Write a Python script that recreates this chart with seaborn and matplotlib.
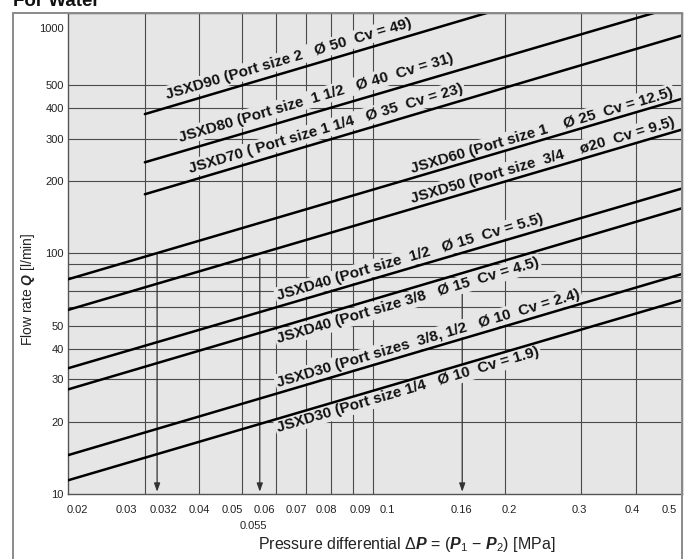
import numpy as np
import pandas as pd
import matplotlib
matplotlib.use("Agg")
import matplotlib.pyplot as plt
import matplotlib.transforms as mtransforms
from matplotlib.lines import Line2D
from matplotlib.ticker import NullLocator
import seaborn as sns

# --- data (each line is straight on log-log axes) ---
models = ["JSXD90", "JSXD80", "JSXD70", "JSXD60", "JSXD50",
          "JSXD40 1/2", "JSXD40 3/8", "JSXD30 3/8,1/2", "JSXD30 1/4"]
labels = [
    "JSXD90 (Port size 2   Ø 50  Cv = 49)",
    "JSXD80 (Port size  1 1/2   Ø 40  Cv = 31)",
    "JSXD70 ( Port size 1 1/4   Ø 35  Cv = 23)",
    "JSXD60 (Port size 1    Ø 25  Cv = 12.5)",
    "JSXD50 (Port size  3/4    ø20  Cv = 9.5)",
    "JSXD40 (Port size  1/2   Ø 15  Cv = 5.5)",
    "JSXD40 (Port size 3/8   Ø 15  Cv = 4.5)",
    "JSXD30 (Port sizes  3/8, 1/2   Ø 10  Cv = 2.4)",
    "JSXD30 (Port size 1/4   Ø 10  Cv = 1.9)",
]
dp_start = [0.03, 0.03, 0.03, 0.02, 0.02, 0.02, 0.02, 0.02, 0.02]
dp_end = [0.183, 0.442, 0.51, 0.51, 0.51, 0.51, 0.51, 0.51, 0.51]
q_start = [379, 239, 176, 78.0, 58.2, 33.3, 27.2, 14.5, 11.4]
q_end = [1000, 1000, 805, 439, 327, 186, 154, 82.1, 64.0]

# example readings marked by arrows
arrow_dp = [0.032, 0.055, 0.16]
arrow_q = [100, 95, 70]

x_ticks = [0.02, 0.03, 0.032, 0.04, 0.05, 0.055, 0.06, 0.07, 0.08, 0.09, 0.1, 0.16, 0.2, 0.3, 0.4, 0.5]
x_tick_text = ["0.02", "0.03", "0.032", "0.04", "0.05", "0.055", "0.06", "0.07", "0.08", "0.09",
               "0.1", "0.16", "0.2", "0.3", "0.4", "0.5"]
y_ticks = [10, 20, 30, 40, 50, 100, 200, 300, 400, 500, 1000]
y_tick_text = ["10", "20", "30", "40", "50", "100", "200", "300", "400", "500", "1000"]

grid_x = [0.03, 0.04, 0.05, 0.06, 0.07, 0.08, 0.09, 0.1, 0.2, 0.3, 0.4]
grid_y = [20, 30, 40, 50, 60, 70, 80, 90, 100, 200, 300, 400, 500]

# --- layout / style (positions kept apart from the data) ---
label_dp = [0.0337, 0.0361, 0.0381, 0.1226, 0.1226, 0.0606, 0.0606, 0.0606, 0.0606]
label_q = [438, 291, 216, 216, 162, 64.0, 42.3, 27.9, 18.1]
# nudges (px) of the tick labels, as laid out in the catalogue
x_tick_nudge = [9, -18, 6, 0, -9, -6, -12, -9, -4, 7, 14, -1, 5, -2, -4, -9]
x_tick_drop = [0, 0, 0, 0, 0, 16, 0, 0, 0, 0, 0, 0, 0, 0, 0, 0]

BG = "#e6e6e6"
GRID = "#4a4a4a"

sns.set_style("white")
plt.rcParams["font.family"] = ["Liberation Sans", "DejaVu Sans"]
plt.rcParams["mathtext.fontset"] = "custom"
plt.rcParams["mathtext.rm"] = "Liberation Sans"
plt.rcParams["mathtext.it"] = "Liberation Sans:italic"
plt.rcParams["mathtext.bf"] = "Liberation Sans:bold:italic"

W, H = 687, 559
fig = plt.figure(figsize=(W / 100, H / 100), dpi=100)
ax = fig.add_axes([68 / W, 65 / H, 614 / W, 481.3 / H])
ax.set_facecolor(BG)

rows = []
for m, a, b, c, d in zip(models, dp_start, dp_end, q_start, q_end):
    rows.append({"model": m, "dp": a, "q": c})
    rows.append({"model": m, "dp": b, "q": d})
df = pd.DataFrame(rows)

sns.lineplot(data=df, x="dp", y="q", units="model", estimator=None, sort=False,
             color="black", lw=1.8, ax=ax, zorder=3)

ax.set_xscale("log")
ax.set_yscale("log")
ax.set_xlim(0.02, 0.51)
ax.set_ylim(10, 1000)

for gx in grid_x:
    ax.axvline(gx, color=GRID, lw=0.8, zorder=1)
for gy in grid_y:
    ax.axhline(gy, color=GRID, lw=0.8, zorder=1)

ax.set_xticks(x_ticks)
ax.set_xticklabels(x_tick_text)
ax.set_yticks(y_ticks)
ax.set_yticklabels(y_tick_text)
ax.xaxis.set_minor_locator(NullLocator())
ax.yaxis.set_minor_locator(NullLocator())
ax.tick_params(axis="x", length=0, pad=8, labelsize=8, colors="#222222")
ax.tick_params(axis="y", length=0, pad=3, labelsize=8, colors="#222222")

for tick, nudge, drop in zip(ax.xaxis.get_major_ticks(), x_tick_nudge, x_tick_drop):
    lab = tick.label1
    lab.set_transform(lab.get_transform() +
                      mtransforms.ScaledTranslation(nudge / 100, -drop / 100, fig.dpi_scale_trans))
top_tick = ax.yaxis.get_major_ticks()[-1].label1
top_tick.set_transform(top_tick.get_transform() +
                       mtransforms.ScaledTranslation(0, -0.15, fig.dpi_scale_trans))

for sp in ax.spines.values():
    sp.set_color("#555555")
    sp.set_linewidth(1.0)

# arrows down to the pressure axis
for x, q in zip(arrow_dp, arrow_q):
    ax.annotate("", xy=(x, ax.get_ylim()[0] * 1.022), xytext=(x, q),
                arrowprops=dict(arrowstyle="-|>,head_length=0.5,head_width=0.18",
                                color="#333333", lw=0.9, shrinkA=0, shrinkB=0),
                zorder=1.5)

# model labels parallel to their lines, masking the grid behind them
for i, txt in enumerate(labels):
    p0 = ax.transData.transform((dp_start[i], q_start[i]))
    p1 = ax.transData.transform((dp_end[i], q_end[i]))
    ang = np.degrees(np.arctan2(p1[1] - p0[1], p1[0] - p0[0]))
    ax.text(label_dp[i], label_q[i], txt, rotation=ang, rotation_mode="anchor",
            ha="left", va="baseline", fontsize=11, fontweight="bold", color="#111111",
            bbox=dict(boxstyle="square,pad=0.12", fc=BG, ec="none"), zorder=2)

ax.set_xlabel(r"Pressure differential Δ$\mathbf{P}$ = ($\mathbf{P}_{\mathit{1}}$ − $\mathbf{P}_{\mathit{2}}$) [MPa]",
              fontsize=11.5, color="#222222")
ax.set_ylabel(r"Flow rate $\mathbf{Q}$ [l/min]", fontsize=10, color="#222222")
ax.xaxis.set_label_coords(0.552, -0.085)
ax.yaxis.set_label_coords(-0.050, 0.426)

# outer frame of the catalogue panel
fx0, fx1, fy1 = 13 / W, 682 / W, (H - 12.7) / H
for xs, ys in [([fx0, fx0], [0, fy1]), ([fx0, fx1], [fy1, fy1]), ([fx1, fx1], [0, fy1])]:
    fig.add_artist(Line2D(xs, ys, color="#8a8a8a", lw=1.4, transform=fig.transFigure))

# panel heading, partly above the crop as in the source page
fig.text(13 / W, (H - 6) / H, "For Water", fontsize=13.5, fontweight="bold",
         ha="left", va="baseline", color="#111111")

fig.savefig("out.png", dpi=100)
